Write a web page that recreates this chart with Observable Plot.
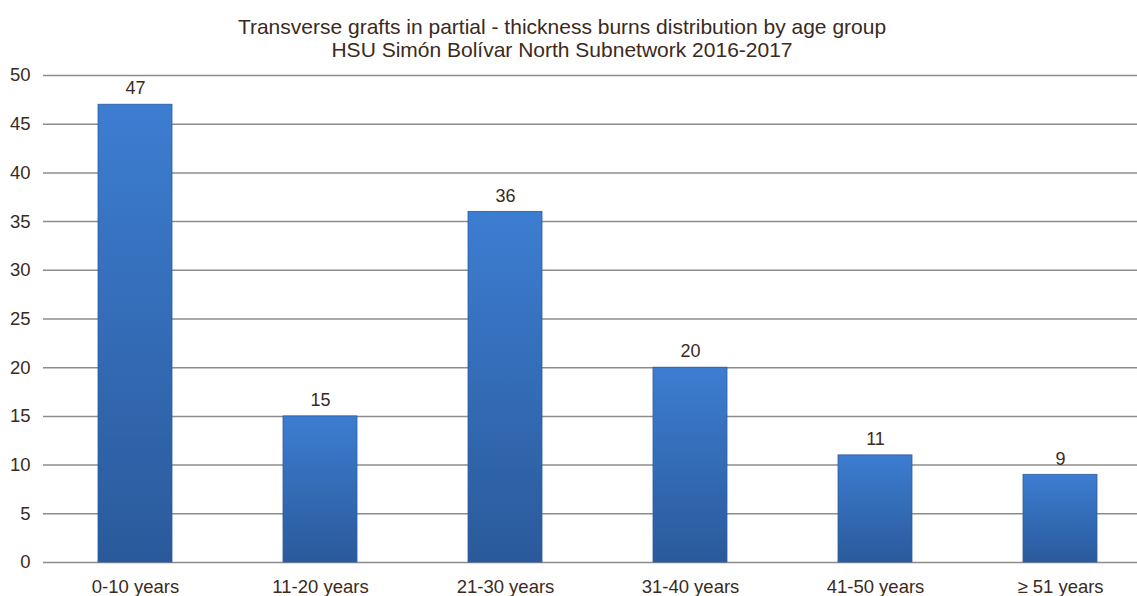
<!DOCTYPE html>
<html><head><meta charset="utf-8">
<script src="https://cdn.jsdelivr.net/npm/d3@7"></script>
<script src="https://cdn.jsdelivr.net/npm/@observablehq/plot@0.6"></script>
<style>
body{margin:0;background:#fff;font-family:"Liberation Sans",Arial,sans-serif;color:#3b2a20;overflow:hidden;}
#title{width:1124px;text-align:center;font-size:21px;line-height:23px;padding-top:15px;height:47px;}
</style></head><body>
<div id="title">Transverse grafts in partial - thickness burns distribution by age group<br>HSU Simón Bolívar North Subnetwork 2016-2017</div>
<div id="chart"></div>
<script>
const ageGroups = ["0-10 years","11-20 years","21-30 years","31-40 years","41-50 years","≥ 51 years"];
const counts = [47,15,36,20,11,9];
const yTicks = [0,5,10,15,20,25,30,35,40,45,50];
const data = ageGroups.map((g,i)=>({group:g,count:counts[i]}));
const plot = Plot.plot({
  width:1137, height:534, marginTop:13, marginBottom:34, marginLeft:43, marginRight:0,
  style:{fontFamily:'"Liberation Sans",Arial,sans-serif', fontSize:"18px", color:"#3b2a20", background:"#fff"},
  x:{domain:ageGroups, range:[43,1153], paddingInner:0.6, paddingOuter:0.3, label:null},
  y:{domain:[0,50], label:null},
  marks:[
    Plot.gridY(yTicks,{stroke:"#8c8c8c", strokeOpacity:1, strokeWidth:1.5}),
    Plot.barY(data,{x:"group", y:"count", fill:"url(#barGrad)", stroke:"#2c5d9e", strokeWidth:0.8}),
    Plot.text(data,{x:"group", y:"count", text:d=>String(d.count), dy:-16, fontSize:18, fill:"#3b2a20"}),
    Plot.axisY({ticks:yTicks, tickSize:0, tickPadding:13, label:null, fontSize:18.5}),
    Plot.axisX({tickSize:0, tickPadding:17, label:null, fontSize:18.5})
  ]
});
d3.select(plot).insert("defs",":first-child").html(
  '<linearGradient id="barGrad" x1="0" y1="0" x2="0" y2="1">' +
  '<stop offset="0" stop-color="#3d7dd1"/><stop offset="1" stop-color="#2a5a9b"/></linearGradient>');
document.getElementById("chart").appendChild(plot);
</script>
</body></html>
